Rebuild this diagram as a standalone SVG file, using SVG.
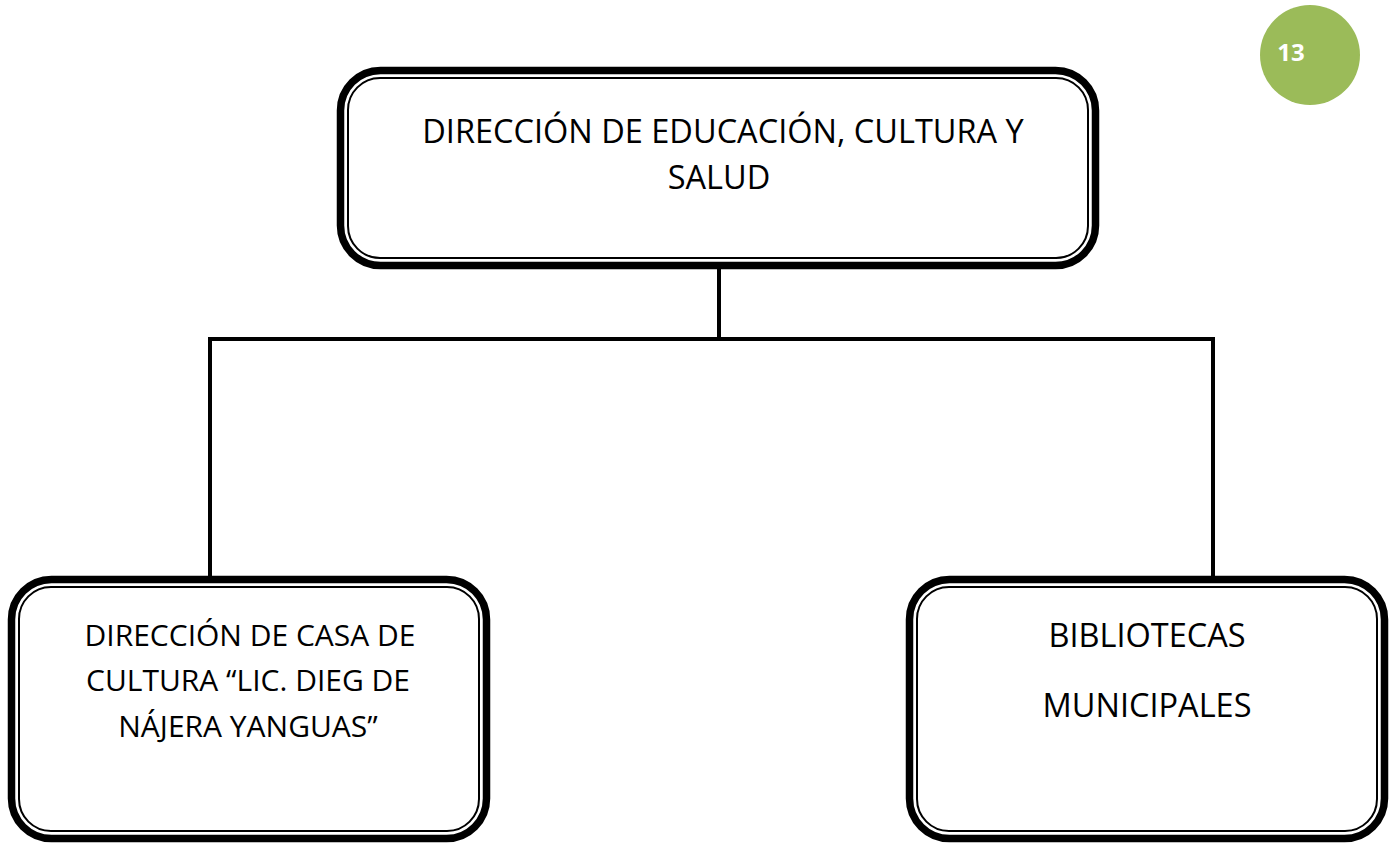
<svg xmlns="http://www.w3.org/2000/svg" width="1393" height="843" viewBox="0 0 1393 843">
<style>
.outer{fill:#fff;stroke:#000;stroke-width:7.5}
.inner{fill:none;stroke:#000;stroke-width:2}
.lbl{font-family:"Open Sans","Liberation Sans",sans-serif;font-size:32.5px;fill:#000;text-anchor:middle}
.sm{font-size:30px}
.conn{stroke:#000;stroke-width:4;fill:none}
</style>
<rect width="1393" height="843" fill="#fff"/>
<g id="badge">
<circle cx="1310" cy="55" r="50" fill="#9BBB59"/>
<text x="1291" y="61" font-family="Open Sans, Liberation Sans, sans-serif" font-weight="bold" font-size="24" fill="#fff" text-anchor="middle">13</text>
</g>
<g id="connectors">
<line class="conn" x1="719" y1="268" x2="719" y2="339"/>
<line class="conn" x1="208" y1="339" x2="1215" y2="339"/>
<line class="conn" x1="210" y1="337" x2="210" y2="585"/>
<line class="conn" x1="1213" y1="337" x2="1213" y2="578"/>
</g>
<g id="node-top">
<rect class="outer" x="340.5" y="70.5" width="755" height="195" rx="40"/>
<rect class="inner" x="348" y="78" width="740" height="180" rx="32"/>
<text class="lbl" x="723" y="143">DIRECCIÓN DE EDUCACIÓN, CULTURA Y</text>
<text class="lbl" x="719" y="189">SALUD</text>
</g>
<g id="node-casa">
<rect class="outer" x="11.5" y="579.5" width="475" height="259" rx="40"/>
<rect class="inner" x="19" y="587" width="460" height="244" rx="32"/>
<text class="lbl sm" x="250" y="646">DIRECCIÓN DE CASA DE</text>
<text class="lbl sm" x="248" y="691">CULTURA “LIC. DIEG DE</text>
<text class="lbl sm" x="248" y="737">NÁJERA YANGUAS”</text>
</g>
<g id="node-bibliotecas">
<rect class="outer" x="909.5" y="579.5" width="475" height="259" rx="40"/>
<rect class="inner" x="917" y="587" width="460" height="244" rx="32"/>
<text class="lbl" x="1147" y="647">BIBLIOTECAS</text>
<text class="lbl" x="1147" y="717">MUNICIPALES</text>
</g>
</svg>
